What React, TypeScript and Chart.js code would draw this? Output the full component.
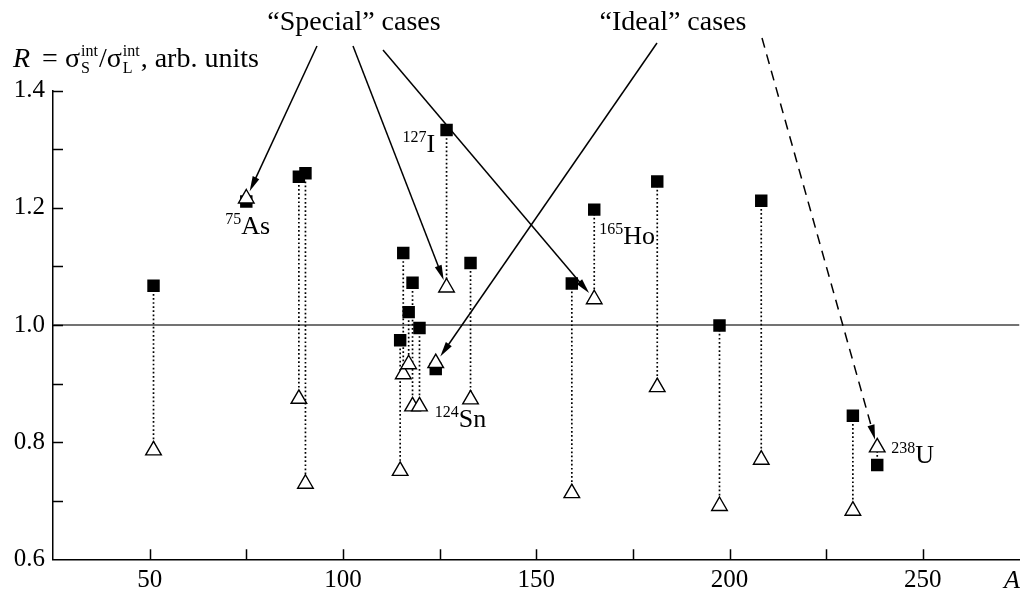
import React, { useEffect, useRef } from "react";
import { Chart, registerables } from "chart.js";

Chart.register(...registerables);

// ---- data ----
const massNumbers = [51, 75, 88.6, 90.3, 114.8, 115.6, 117, 118, 119.8, 124, 126.8, 133, 159.2, 165, 181.3, 197.4, 208.2, 231.9, 238.2];
const squareRatios = [1.067, 1.211, 1.253, 1.259, 0.974, 1.123, 1.022, 1.072, 0.995, 0.925, 1.333, 1.106, 1.071, 1.197, 1.245, 0.999, 1.212, 0.845, 0.761];
const triangleRatios = [0.786, 1.216, 0.874, 0.729, 0.751, 0.916, 0.933, 0.861, 0.861, 0.935, 1.064, 0.873, 0.713, 1.044, 0.894, 0.691, 0.77, 0.683, 0.791];

const xMin = 25;
const xMax = 275;
const yMin = 0.6;
const yMax = 1.4;
const referenceRatio = 1.0;

const xTickValues = [50, 100, 150, 200, 250];
const xTickLabels = ["50", "100", "150", "200", "250"];
const yTickValues = [0.6, 0.8, 1.0, 1.2, 1.4];
const yTickLabels = ["0.6", "0.8", "1.0", "1.2", "1.4"];

// isotope labels: index into the arrays, mass superscript, element
const isotopeIndex = [1, 10, 9, 13, 18];
const isotopeMass = ["75", "127", "124", "165", "238"];
const isotopeSymbol = ["As", "I", "Sn", "Ho", "U"];
const isotopeAnchor = ["tri", "sq", "tri", "sq", "tri"];
// layout offsets (px) of each label from its anchor point
const isotopeOffsets = [[-21, 36], [-44, 22], [-1, 64], [5, 34], [14, 16]];

// annotation arrows: which point they point to, start pixel, dashed?
const arrowTargets = [1, 10, 13, 9, 18];
const arrowStarts = [[317, 46], [353, 46], [383, 50], [657, 43], [762, 38]];
const arrowDashed = [false, false, false, false, true];

const FONT = "'Liberation Serif', 'Times New Roman', serif";

function drawArrow(ctx: CanvasRenderingContext2D, sx: number, sy: number, px: number, py: number, dashed: boolean) {
  const dx = px - sx;
  const dy = py - sy;
  const len = Math.hypot(dx, dy);
  const ux = dx / len;
  const uy = dy / len;
  const gap = 8;
  const tx = px - ux * gap;
  const ty = py - uy * gap;
  const headLen = 15;
  const headW = 3.6;
  const bx = tx - ux * headLen;
  const by = ty - uy * headLen;
  ctx.save();
  ctx.strokeStyle = "#000";
  ctx.lineWidth = 1.5;
  ctx.setLineDash(dashed ? [10, 7] : []);
  ctx.beginPath();
  ctx.moveTo(sx, sy);
  ctx.lineTo(bx + ux * 2, by + uy * 2);
  ctx.stroke();
  ctx.setLineDash([]);
  ctx.fillStyle = "#000";
  ctx.beginPath();
  ctx.moveTo(tx, ty);
  ctx.lineTo(bx - uy * headW, by + ux * headW);
  ctx.lineTo(bx + uy * headW, by - ux * headW);
  ctx.closePath();
  ctx.fill();
  ctx.restore();
}

const inwardTicks = {
  id: "inwardTicks",
  afterDatasetsDraw(chart: any) {
    const ctx = chart.ctx as CanvasRenderingContext2D;
    const xs = chart.scales.x;
    const ys = chart.scales.y;
    const area = chart.chartArea;
    ctx.save();
    ctx.strokeStyle = "#000";
    ctx.lineWidth = 1.5;
    ctx.beginPath();
    xs.ticks.forEach((t: any) => {
      if (t.value <= xMin + 1e-6 || t.value >= xMax - 1e-6) return;
      const px = Math.round(xs.getPixelForValue(t.value)) + 0.5;
      ctx.moveTo(px, area.bottom);
      ctx.lineTo(px, area.bottom - 10);
    });
    ys.ticks.forEach((t: any) => {
      if (t.value <= yMin + 1e-6) return;
      const py = Math.round(ys.getPixelForValue(t.value)) + 0.5;
      ctx.moveTo(area.left, py);
      ctx.lineTo(area.left + 10, py);
    });
    ctx.stroke();
    ctx.restore();
  },
};

const annotations = {
  id: "annotations",
  afterDraw(chart: any) {
    const ctx = chart.ctx as CanvasRenderingContext2D;
    const xs = chart.scales.x;
    const ys = chart.scales.y;
    ctx.save();
    ctx.fillStyle = "#000";
    ctx.textBaseline = "alphabetic";
    ctx.textAlign = "left";

    // axis title (top left)
    let x = 13;
    const base = 67;
    const put = (text: string, font: string, extra = 0) => {
      ctx.font = font;
      ctx.fillText(text, x, base);
      x += ctx.measureText(text).width + extra;
    };
    const stack = (sup: string, sub: string) => {
      ctx.font = `16px ${FONT}`;
      ctx.fillText(sup, x + 1, base - 11);
      ctx.fillText(sub, x + 1, base + 6);
      x += Math.max(ctx.measureText(sup).width, ctx.measureText(sub).width) + 2;
    };
    put("R", `italic 28px ${FONT}`, 12);
    put("=", `28px ${FONT}`, 7);
    put("σ", `28px ${FONT}`);
    stack("int", "S");
    put("/σ", `28px ${FONT}`);
    stack("int", "L");
    put(", arb. units", `28px ${FONT}`);

    // x axis letter
    ctx.font = `italic 26px ${FONT}`;
    ctx.fillText("A", 1004, 588);

    // group headers
    ctx.textAlign = "center";
    ctx.font = `28px ${FONT}`;
    ctx.fillText("\u201CSpecial\u201D cases", 354, 30);
    ctx.fillText("\u201CIdeal\u201D cases", 673, 30);
    ctx.textAlign = "left";

    // arrows
    arrowTargets.forEach((idx, k) => {
      const px = xs.getPixelForValue(massNumbers[idx]);
      const py = ys.getPixelForValue(triangleRatios[idx]);
      drawArrow(ctx, arrowStarts[k][0], arrowStarts[k][1], px, py, arrowDashed[k]);
    });

    // isotope labels
    isotopeIndex.forEach((idx, k) => {
      const ax = xs.getPixelForValue(massNumbers[idx]);
      const ay = ys.getPixelForValue(isotopeAnchor[k] === "sq" ? squareRatios[idx] : triangleRatios[idx]);
      let lx = ax + isotopeOffsets[k][0];
      const ly = ay + isotopeOffsets[k][1];
      ctx.font = `16px ${FONT}`;
      ctx.fillText(isotopeMass[k], lx, ly - 10);
      lx += ctx.measureText(isotopeMass[k]).width;
      ctx.font = `26px ${FONT}`;
      ctx.fillText(isotopeSymbol[k], lx, ly);
    });
    ctx.restore();
  },
};

export default function App() {
  const ref = useRef<HTMLCanvasElement>(null);
  useEffect(() => {
    const canvas = ref.current!;
    const pairLines = massNumbers.flatMap((a, i) => [
      { x: a, y: squareRatios[i] },
      { x: a, y: triangleRatios[i] },
      { x: a, y: null as any },
    ]);
    const squares = massNumbers.map((a, i) => ({ x: a, y: squareRatios[i] }));
    const triangles = massNumbers.map((a, i) => ({ x: a, y: triangleRatios[i] }));
    const tickFont = { family: FONT, size: 25 };

    const chart = new Chart(canvas, {
      type: "scatter",
      data: {
        datasets: [
          {
            label: "triangles",
            data: triangles,
            pointStyle: "triangle",
            pointRadius: 9,
            pointBackgroundColor: "#fff",
            pointBorderColor: "#000",
            pointBorderWidth: 1.4,
            order: 0,
          } as any,
          {
            label: "squares",
            data: squares,
            pointStyle: "rect",
            pointRadius: 8.8,
            pointBackgroundColor: "#000",
            pointBorderColor: "#000",
            pointBorderWidth: 0,
            order: 1,
          },
          {
            label: "pairs",
            data: pairLines,
            showLine: true,
            spanGaps: false,
            pointRadius: 0,
            borderColor: "#000",
            borderWidth: 1.7,
            borderDash: [1.7, 2.4],
            order: 2,
          },
          {
            label: "unity",
            data: [
              { x: xMin, y: referenceRatio },
              { x: xMax, y: referenceRatio },
            ],
            showLine: true,
            pointRadius: 0,
            borderColor: "#444",
            borderWidth: 1.5,
            order: 3,
          },
        ],
      },
      options: {
        animation: false,
        responsive: false,
        devicePixelRatio: 1,
        layout: { autoPadding: false, padding: { top: 90.7, right: 0.5, left: 0, bottom: 0 } },
        plugins: { legend: { display: false }, tooltip: { enabled: false } },
        scales: {
          x: {
            type: "linear",
            min: xMin,
            max: xMax,
            grid: { display: false, drawTicks: false },
            border: { display: true, color: "#000", width: 1.5 },
            ticks: {
              stepSize: 25,
              autoSkip: false,
              maxRotation: 0,
              padding: 6,
              color: "#000",
              font: tickFont,
              callback: (v: any) => {
                const i = xTickValues.findIndex((t) => Math.abs(t - Number(v)) < 1e-6);
                return i >= 0 ? xTickLabels[i] : "";
              },
            },
            afterFit: (s: any) => {
              s.height = 31.7;
              s.paddingLeft = 0;
              s.paddingRight = 0;
            },
          },
          y: {
            type: "linear",
            min: yMin,
            max: yMax,
            grid: { display: false, drawTicks: false },
            border: { display: true, color: "#000", width: 1.5 },
            ticks: {
              stepSize: 0.1,
              autoSkip: false,
              padding: 8,
              color: "#000",
              font: tickFont,
              callback: (v: any) => {
                const i = yTickValues.findIndex((t) => Math.abs(t - Number(v)) < 1e-6);
                return i >= 0 ? yTickLabels[i] : "";
              },
            },
            afterFit: (s: any) => {
              s.width = 53;
              s.paddingTop = 0;
              s.paddingBottom = 0;
            },
          },
        },
      },
      plugins: [inwardTicks, annotations],
    });
    return () => chart.destroy();
  }, []);

  return (
    <div style={{ position: "fixed", left: 0, top: 0, width: 1020, height: 591, background: "#fff" }}>
      <canvas ref={ref} width={1020} height={591} style={{ width: 1020, height: 591, display: "block" }} />
    </div>
  );
}
